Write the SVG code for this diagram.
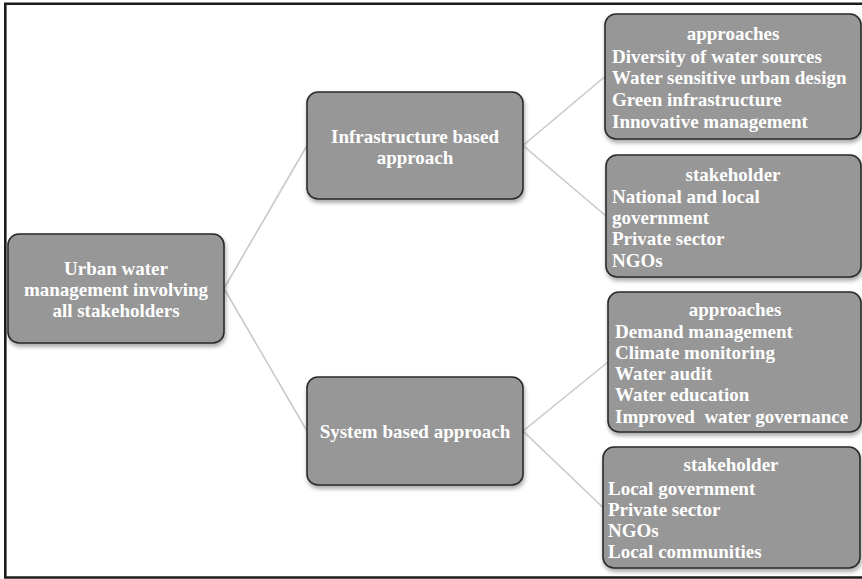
<svg xmlns="http://www.w3.org/2000/svg" width="862" height="579" viewBox="0 0 862 579">
<style>
.box{fill:#979797;stroke:#2a2a2a;stroke-width:1.6;filter:url(#sh)}
.t{font-family:"Liberation Serif","Times New Roman",serif;font-weight:bold;font-size:19px;fill:#ffffff}
.c{text-anchor:middle}
.conn{stroke:#c9c9c9;stroke-width:1.6;fill:none}
</style>
<defs>
<filter id="sh" x="-10%" y="-10%" width="120%" height="125%">
<feDropShadow dx="1" dy="3" stdDeviation="2" flood-color="#000" flood-opacity="0.35"/>
</filter>
</defs>
<rect width="862" height="579" fill="#fff"/>
<path d="M862,3.7 H5.3 V577.5 H862" fill="none" stroke="#1c1c1c" stroke-width="2.6"/>
<g id="connectors">
<line class="conn" x1="224" y1="288.5" x2="307" y2="145.5"/>
<line class="conn" x1="224" y1="288.5" x2="307" y2="431"/>
<line class="conn" x1="523" y1="145.5" x2="605" y2="76.5"/>
<line class="conn" x1="523" y1="145.5" x2="606" y2="216"/>
<line class="conn" x1="523" y1="431" x2="608" y2="362"/>
<line class="conn" x1="523" y1="431" x2="603" y2="507.5"/>
</g>
<g id="root">
<rect class="box" x="8" y="234" width="216" height="109" rx="11"/>
<text class="t c" x="116" y="275">Urban water</text>
<text class="t c" x="116" y="296">management involving</text>
<text class="t c" x="116" y="317">all stakeholders</text>
</g>
<g id="infra">
<rect class="box" x="307" y="92" width="216" height="107" rx="11"/>
<text class="t c" x="415" y="143">Infrastructure based</text>
<text class="t c" x="415" y="164">approach</text>
</g>
<g id="system">
<rect class="box" x="307" y="377" width="216" height="108" rx="11"/>
<text class="t c" x="415" y="438">System based approach</text>
</g>
<g id="infra-approaches">
<rect class="box" x="605" y="14" width="256" height="125" rx="11"/>
<text class="t c" x="733" y="40">approaches</text>
<text class="t" x="612" y="63">Diversity of water sources</text>
<text class="t" x="612" y="84">Water sensitive urban design</text>
<text class="t" x="612" y="106">Green infrastructure</text>
<text class="t" x="612" y="128">Innovative management</text>
</g>
<g id="infra-stakeholder">
<rect class="box" x="606" y="155" width="255" height="122" rx="11"/>
<text class="t c" x="733" y="181">stakeholder</text>
<text class="t" x="612" y="203">National and local</text>
<text class="t" x="612" y="224">government</text>
<text class="t" x="612" y="245">Private sector</text>
<text class="t" x="612" y="267">NGOs</text>
</g>
<g id="system-approaches">
<rect class="box" x="608" y="292" width="253" height="140" rx="11"/>
<text class="t c" x="735" y="316">approaches</text>
<text class="t" x="615" y="338">Demand management</text>
<text class="t" x="615" y="359">Climate monitoring</text>
<text class="t" x="615" y="380">Water audit</text>
<text class="t" x="615" y="401">Water education</text>
<text class="t" x="615" y="423" xml:space="preserve">Improved  water governance</text>
</g>
<g id="system-stakeholder">
<rect class="box" x="603" y="447" width="257" height="121" rx="11"/>
<text class="t c" x="731" y="471">stakeholder</text>
<text class="t" x="608" y="495">Local government</text>
<text class="t" x="608" y="516">Private sector</text>
<text class="t" x="608" y="537">NGOs</text>
<text class="t" x="608" y="558">Local communities</text>
</g>
</svg>
